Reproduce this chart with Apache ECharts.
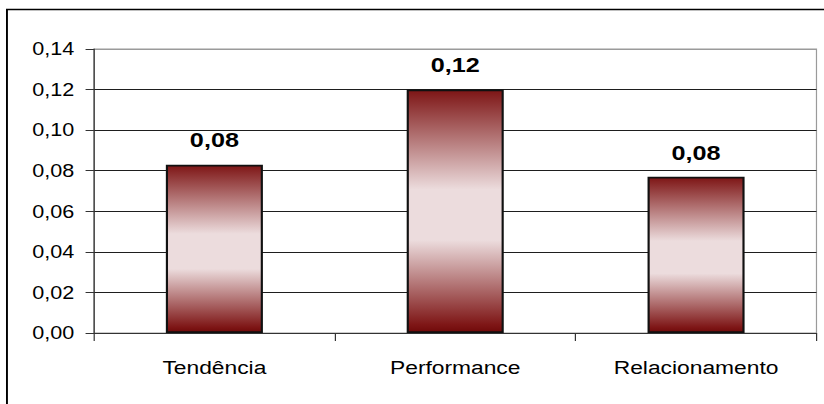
<!DOCTYPE html>
<html>
<head>
<meta charset="utf-8">
<script src="https://cdn.jsdelivr.net/npm/echarts@6/dist/echarts.min.js"></script>
<style>
  html, body { margin: 0; padding: 0; background: #fff; overflow: hidden; }
  /* the chart is laid out narrower and widened, giving the broad lettering */
  #chart { width: 687px; height: 404px; transform: scaleX(1.2); transform-origin: 0 0; }
</style>
</head>
<body>
<div id="chart"></div>
<script>
// Indicator scores per dimension
const categories = ['Tendência', 'Performance', 'Relacionamento'];
const values = [0.083, 0.120, 0.077];

// Value axis range and step
const yMin = 0;
const yMax = 0.14;
const yStep = 0.02;

const fmt = v => v.toFixed(2).replace('.', ',');
const FONT = '"Liberation Sans", Arial, sans-serif';

const chart = echarts.init(document.getElementById('chart'), null, { renderer: 'svg' });

const barFill = new echarts.graphic.LinearGradient(0, 0, 0, 1, [
  { offset: 0.00, color: '#7e1616' },
  { offset: 0.41, color: '#ecdcdd' },
  { offset: 0.62, color: '#ecdcdd' },
  { offset: 0.97, color: '#7e1616' },
  { offset: 1.00, color: '#700a0a' }
]);

chart.setOption({
  animation: false,
  backgroundColor: '#ffffff',
  textStyle: { fontFamily: FONT },
  graphic: [{
    type: 'rect',
    silent: true,
    shape: { x: 5.8, y: 9.5, width: 720, height: 420 },
    style: { fill: 'none', stroke: '#000', lineWidth: 1.6 },
    z: 100
  }],
  grid: {
    left: 78.3,
    right: 6.6,
    top: 49,
    height: 284,
    show: true,
    borderColor: '#9a9a9a',
    borderWidth: 1,
    backgroundColor: 'transparent'
  },
  xAxis: {
    type: 'category',
    data: categories,
    boundaryGap: true,
    axisLine: { lineStyle: { color: '#333', width: 1 } },
    axisTick: { show: true, length: 8, alignWithLabel: false, lineStyle: { color: '#333' } },
    axisLabel: { color: '#000', fontSize: 19, margin: 25, fontFamily: FONT }
  },
  yAxis: {
    type: 'value',
    min: yMin,
    max: yMax,
    interval: yStep,
    axisLine: { show: true, lineStyle: { color: '#333', width: 1 } },
    axisTick: { show: true, length: 7, lineStyle: { color: '#333' } },
    axisLabel: { color: '#000', fontSize: 18, margin: 16.5, formatter: fmt, fontFamily: FONT },
    splitLine: {
      show: true,
      lineStyle: { color: ['#1e1e1e', '#1e1e1e', '#1e1e1e', '#1e1e1e', '#1e1e1e', '#1e1e1e', '#1e1e1e', '#9a9a9a'], width: 1 }
    }
  },
  series: [{
    type: 'bar',
    data: values,
    barWidth: '40.3%',
    itemStyle: { color: barFill, borderColor: '#111', borderWidth: 1.8 },
    label: {
      show: true,
      position: 'top',
      distance: 14,
      color: '#000',
      fontSize: 21,
      fontWeight: 'bold',
      fontFamily: FONT,
      formatter: p => fmt(p.value)
    }
  }]
});
</script>
</body>
</html>
